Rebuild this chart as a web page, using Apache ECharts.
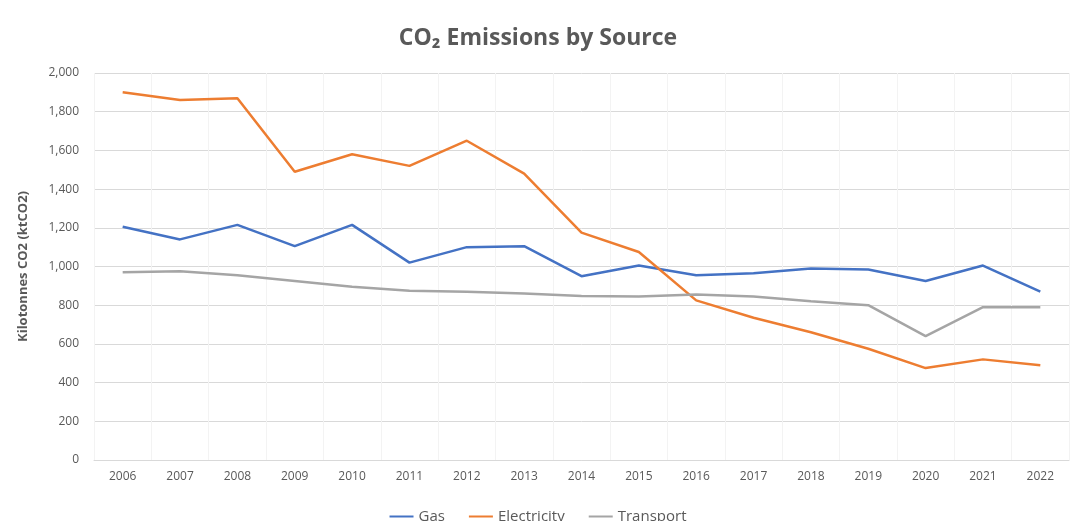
<!DOCTYPE html>
<html>
<head>
<meta charset="utf-8">
<script src="https://cdn.jsdelivr.net/npm/echarts@6/dist/echarts.min.js"></script>
<style>
  html, body { margin: 0; padding: 0; background: #fff; }
  #chart { width: 1076px; height: 521px; }
</style>
</head>
<body>
<div id="chart"></div>
<script>
// 年份
const years = ['2006','2007','2008','2009','2010','2011','2012','2013','2014',
    '2015','2016','2017','2018','2019','2020','2021','2022'];

// 各来源排放量 (ktCO2)
const gas = [1205,1140,1215,1105,1215,1020,1100,1105,950,1005,955,965,990,985,925,1005,870];
const electricity = [1900,1860,1870,1490,1580,1520,1650,1480,1175,1075,825,735,660,575,475,520,490];
const transport = [970,975,955,925,895,875,870,860,848,845,855,845,820,800,640,790,790];

(function() {
    const chartDom = document.getElementById('chart');
    const myChart = echarts.init(chartDom);

    const lineSeries = (name, data, color) => ({
        name, type: 'line', data,
        symbol: 'none',
        lineStyle: { width: 2.5, color },
        itemStyle: { color }
    });

    const option = {
        animation: false,
        title: {
            text: 'CO₂ Emissions by Source',
            left: 'center',
            top: 22,
            textStyle: { fontFamily: 'Open Sans', fontSize: 23, fontWeight: 'bold', color: '#595959' }
        },
        legend: {
            bottom: -8,
            left: 'center',
            itemWidth: 24,
            itemHeight: 2,
            itemGap: 24,
            icon: 'rect',
            textStyle: { fontFamily: 'Open Sans', fontSize: 15, color: '#595959' },
            data: ['Gas', 'Electricity', 'Transport']
        },
        grid: { left: 94, right: 7, top: 73, bottom: 61 },
        xAxis: {
            type: 'category',
            data: years,
            boundaryGap: true,
            axisLine: { lineStyle: { color: '#d9d9d9' } },
            axisTick: { show: false },
            axisLabel: { fontFamily: 'Open Sans', fontSize: 12, color: '#595959', margin: 11 },
            splitLine: { show: true, lineStyle: { color: '#f3f3f3' } }
        },
        yAxis: {
            type: 'value',
            min: 0,
            max: 2000,
            interval: 200,
            name: 'Kilotonnes CO2 (ktCO2)',
            nameLocation: 'middle',
            nameGap: 64,
            nameTextStyle: { fontFamily: 'Open Sans', fontSize: 13, fontWeight: 'bold', color: '#595959' },
            axisLabel: {
                fontFamily: 'Open Sans', fontSize: 12, color: '#595959', margin: 15,
                formatter: v => v.toLocaleString('en-US')
            },
            splitLine: { lineStyle: { color: '#d9d9d9' } }
        },
        series: [
            lineSeries('Gas', gas, '#4472C4'),
            lineSeries('Electricity', electricity, '#ED7D31'),
            lineSeries('Transport', transport, '#A5A5A5')
        ]
    };

    myChart.setOption(option);
    window.addEventListener('resize', () => myChart.resize());
})();
</script>
</body>
</html>
